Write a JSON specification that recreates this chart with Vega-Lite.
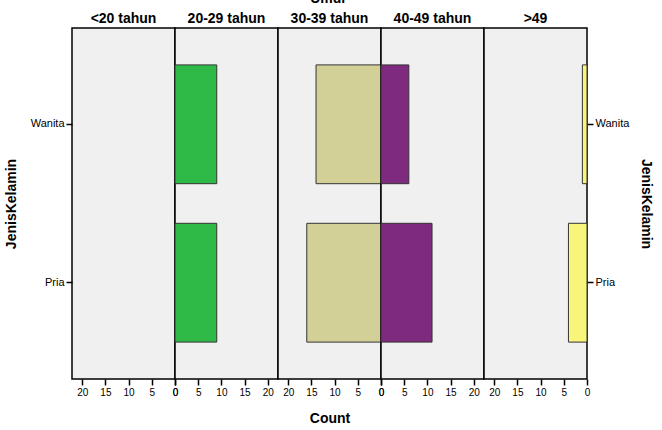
{
  "$schema": "https://vega.github.io/schema/vega-lite/v6.json",
  "padding": {"left": 3, "top": -8, "right": 2, "bottom": 4},
  "bounds": "flush",
  "background": "white",
  "title": {"text": "Umur", "fontSize": 14, "fontWeight": "bold", "anchor": "middle", "offset": 5, "color": "#000"},
  "datasets": {
    "d": [
      {"Umur": "20-29 tahun", "JenisKelamin": "Wanita", "Count": 9},
      {"Umur": "20-29 tahun", "JenisKelamin": "Pria", "Count": 9},
      {"Umur": "30-39 tahun", "JenisKelamin": "Wanita", "Count": 14},
      {"Umur": "30-39 tahun", "JenisKelamin": "Pria", "Count": 16},
      {"Umur": "40-49 tahun", "JenisKelamin": "Wanita", "Count": 6},
      {"Umur": "40-49 tahun", "JenisKelamin": "Pria", "Count": 11},
      {"Umur": ">49", "JenisKelamin": "Wanita", "Count": 1},
      {"Umur": ">49", "JenisKelamin": "Pria", "Count": 4}
    ]
  },
  "data": {"name": "d"},
  "spacing": 0,
  "config": {
    "font": "Liberation Sans",
    "view": {"fill": "#f0f0f0", "stroke": "#000000", "strokeWidth": 1.5},
    "title": {"fontSize": 14, "fontWeight": "bold", "color": "#000000", "offset": 2},
    "axis": {"labelColor": "#000000", "tickColor": "#000000", "labelFontSize": 10, "titleFontSize": 14, "titleFontWeight": "bold", "titleColor": "#000000", "grid": false, "domain": false, "tickSize": 6, "tickWidth": 1.5, "labelPadding": 2, "labelFlush": false}
  },
  "hconcat": [
    {
      "width": 103, "height": 351,
      "title": {"text": "<20 tahun", "anchor": "middle"},
      "transform": [{"filter": "datum.Umur == '<20 tahun'"}],
      "mark": {"type": "bar", "fill": "#3b5fc0", "stroke": "#333333", "strokeWidth": 1},
      "encoding": {
        "x": {"field": "Count", "type": "quantitative", "scale": {"domain": [0, 22.2], "nice": false, "reverse": true}, "axis": {"values": [0, 5, 10, 15, 20], "title": null}},
        "y": {"field": "JenisKelamin", "type": "nominal", "scale": {"domain": ["Wanita", "Pria"], "paddingInner": 0.25, "paddingOuter": 0.233}, "axis": {"orient": "left", "title": "JenisKelamin", "labelFontSize": 11, "titlePadding": 12}}
      }
    },
    {
      "width": 103, "height": 351,
      "title": {"text": "20-29 tahun", "anchor": "middle"},
      "transform": [{"filter": "datum.Umur == '20-29 tahun'"}],
      "mark": {"type": "bar", "fill": "#2fba48", "stroke": "#333333", "strokeWidth": 1},
      "encoding": {
        "x": {"field": "Count", "type": "quantitative", "scale": {"domain": [0, 22.2], "nice": false}, "axis": {"values": [0, 5, 10, 15, 20], "title": null}},
        "y": {"field": "JenisKelamin", "type": "nominal", "scale": {"domain": ["Wanita", "Pria"], "paddingInner": 0.25, "paddingOuter": 0.233}, "axis": null}
      }
    },
    {
      "width": 103, "height": 351,
      "title": {"text": "30-39 tahun", "anchor": "middle"},
      "transform": [{"filter": "datum.Umur == '30-39 tahun'"}],
      "mark": {"type": "bar", "fill": "#d3d097", "stroke": "#333333", "strokeWidth": 1},
      "encoding": {
        "x": {"field": "Count", "type": "quantitative", "scale": {"domain": [0, 22.2], "nice": false, "reverse": true}, "axis": {"values": [0, 5, 10, 15, 20], "title": "Count", "titlePadding": 14}},
        "y": {"field": "JenisKelamin", "type": "nominal", "scale": {"domain": ["Wanita", "Pria"], "paddingInner": 0.25, "paddingOuter": 0.233}, "axis": null}
      }
    },
    {
      "width": 103, "height": 351,
      "title": {"text": "40-49 tahun", "anchor": "middle"},
      "transform": [{"filter": "datum.Umur == '40-49 tahun'"}],
      "mark": {"type": "bar", "fill": "#7e2a7e", "stroke": "#333333", "strokeWidth": 1},
      "encoding": {
        "x": {"field": "Count", "type": "quantitative", "scale": {"domain": [0, 22.2], "nice": false}, "axis": {"values": [0, 5, 10, 15, 20], "title": null}},
        "y": {"field": "JenisKelamin", "type": "nominal", "scale": {"domain": ["Wanita", "Pria"], "paddingInner": 0.25, "paddingOuter": 0.233}, "axis": null}
      }
    },
    {
      "width": 103, "height": 351,
      "title": {"text": ">49", "anchor": "middle"},
      "transform": [{"filter": "datum.Umur == '>49'"}],
      "mark": {"type": "bar", "fill": "#f8f67a", "stroke": "#333333", "strokeWidth": 1},
      "encoding": {
        "x": {"field": "Count", "type": "quantitative", "scale": {"domain": [0, 22.2], "nice": false, "reverse": true}, "axis": {"values": [0, 5, 10, 15, 20], "title": null}},
        "y": {"field": "JenisKelamin", "type": "nominal", "scale": {"domain": ["Wanita", "Pria"], "paddingInner": 0.25, "paddingOuter": 0.233}, "axis": {"orient": "right", "title": "JenisKelamin", "labelFontSize": 11, "titlePadding": 10}}
      }
    }
  ]
}
